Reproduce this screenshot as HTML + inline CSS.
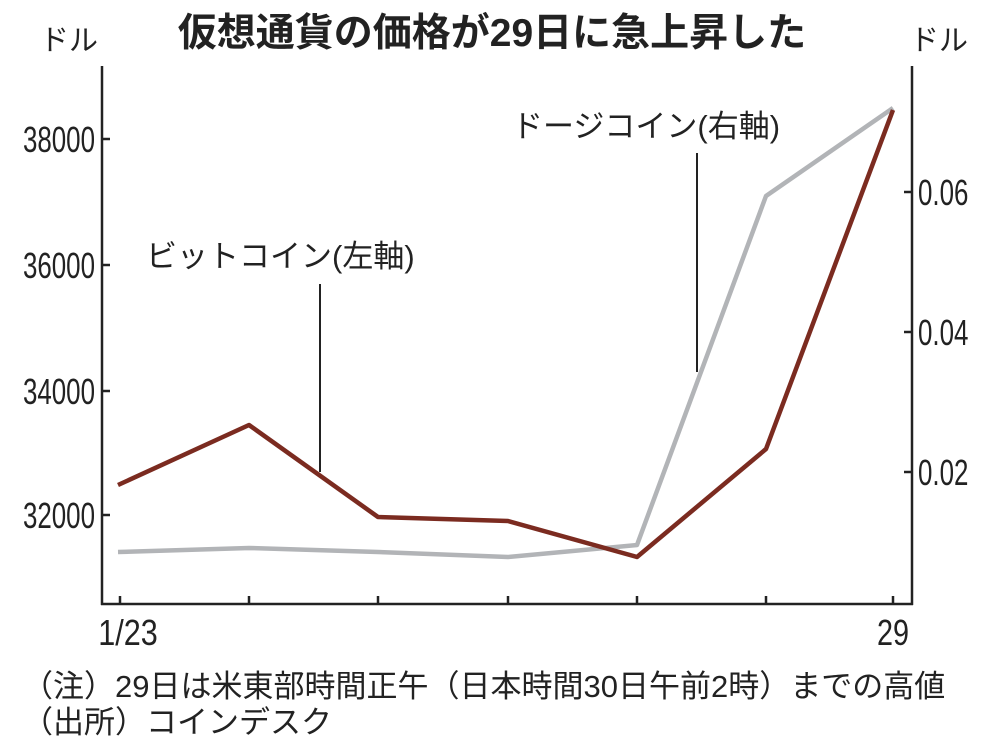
<!DOCTYPE html>
<html><head><meta charset="utf-8"><style>
html,body{margin:0;padding:0;background:#fff;width:988px;height:756px;overflow:hidden}
</style></head><body>
<svg width="988" height="756" xmlns="http://www.w3.org/2000/svg" font-family="Liberation Sans, Noto Sans CJK JP, sans-serif">
<rect width="988" height="756" fill="#fff"/>
<text x="492" y="46" text-anchor="middle" font-size="39" font-weight="bold" fill="#222">仮想通貨の価格が29日に急上昇した</text>
<text x="40" y="50" font-size="29" fill="#222">ドル</text>
<text x="910" y="50" font-size="29" fill="#222">ドル</text>
<g stroke="#222" stroke-width="2.5" fill="none">
<line x1="102" y1="66" x2="102" y2="605"/>
<line x1="912" y1="66" x2="912" y2="605"/>
<line x1="101" y1="604" x2="913" y2="604"/>
<path d="M102 139h8M102 265h8M102 391h8M102 515h8M912 192h-8M912 332h-8M912 472h-8"/>
<path d="M120 604v-8M249 604v-8M378 604v-8M508 604v-8M637 604v-8M766 604v-8M893 604v-8"/>
<line x1="320" y1="284" x2="320" y2="472" stroke-width="2"/>
<line x1="697" y1="153" x2="697" y2="372" stroke-width="2"/>
</g>
<g font-size="36" fill="#222">
<g text-anchor="end"><text x="95" y="152" transform="scale(0.72 1)" transform-origin="95 0">38000</text>
<text x="95" y="278" transform="scale(0.72 1)" transform-origin="95 0">36000</text>
<text x="95" y="404" transform="scale(0.72 1)" transform-origin="95 0">34000</text>
<text x="95" y="528" transform="scale(0.72 1)" transform-origin="95 0">32000</text></g>
<g><text x="918" y="205" transform="scale(0.72 1)" transform-origin="918 0">0.06</text>
<text x="918" y="345" transform="scale(0.72 1)" transform-origin="918 0">0.04</text>
<text x="918" y="485" transform="scale(0.72 1)" transform-origin="918 0">0.02</text></g>
<text x="128" y="645" text-anchor="middle" transform="scale(0.85 1)" transform-origin="128 0">1/23</text>
<text x="893" y="645" text-anchor="middle" transform="scale(0.8 1)" transform-origin="893 0">29</text>
</g>
<polyline points="118,552 249,548 378,552 508,557 637,545 766,196 893,108" fill="none" stroke="#b2b4b7" stroke-width="4.5" stroke-linejoin="round"/>
<polyline points="118,485 249,425 378,517 508,521 637,557 766,449 893,110" fill="none" stroke="#7b2b20" stroke-width="4.5" stroke-linejoin="round"/>
<text x="146" y="267" font-size="31" fill="#222">ビットコイン(左軸)</text>
<text x="512" y="137" font-size="31" fill="#222">ドージコイン(右軸)</text>
<text x="22" y="697" font-size="31" fill="#222">（注）29日は米東部時間正午（日本時間30日午前2時）までの高値</text>
<text x="22" y="733" font-size="31" fill="#222">（出所）コインデスク</text>
</svg>
</body></html>
